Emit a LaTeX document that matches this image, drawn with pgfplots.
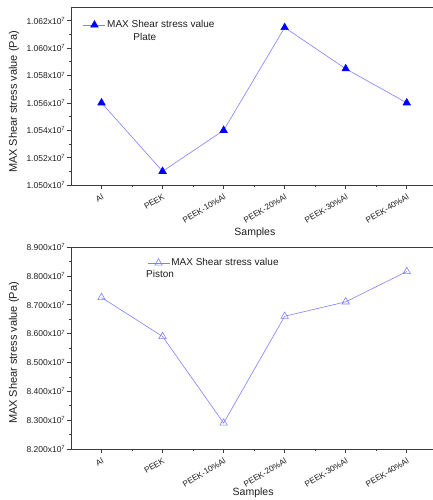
\documentclass[border=0pt]{standalone}
\usepackage{fontspec}
\setmainfont{Liberation Sans}
\usepackage{pgfplots}
\pgfplotsset{compat=1.18}
\definecolor{lineblue}{RGB}{128,128,255}
\definecolor{markblue}{RGB}{0,0,255}
\definecolor{axgray}{RGB}{60,60,60}
\definecolor{txt}{RGB}{30,30,30}
\begin{document}
\begin{tikzpicture}[x=1pt,y=1pt]
\path[use as bounding box] (0,0) rectangle (433,-500);
\pgfplotsset{
 myax/.style={
  scale only axis, width=362pt,
  xmin=-0.5, xmax=5.43,
  xtick={0,1,2,3,4,5},
  xticklabels={Al,PEEK,PEEK-10\%Al,PEEK-20\%Al,PEEK-30\%Al,PEEK-40\%Al},
  minor x tick num=1, minor y tick num=1,
  axis x line*=box, axis y line*=left,
  axis line style={-, axgray, line width=0.8pt},
  xtick pos=bottom, ytick pos=left, tick align=outside,
  major tick length=4pt, minor tick length=2.2pt,
  every tick/.style={axgray, line width=0.6pt},
  xticklabel shift=3pt,
  x tick label style={rotate=31, anchor=north east, font=\fontsize{8.2}{9}\selectfont, text=txt, inner sep=1pt},
  y tick label style={font=\fontsize{8.5}{9}\selectfont, text=txt, inner sep=1.5pt},
  /pgf/number format/assume math mode=true,
  yticklabel={\pgfmathprintnumber[fixed,precision=3,zerofill]{\tick}x10\textsuperscript{7}},
  y filter/.expression={y/1e7},
  ylabel={MAX Shear stress value (Pa)},
  xlabel={Samples},
  legend cell align=left,
  legend style={draw=none, fill=none, inner sep=0pt, anchor=west, font=\fontsize{10}{11}\selectfont, text=txt,
    nodes={inner sep=1.5pt}},
  legend image code/.code={\draw[mark repeat=2,mark phase=2] plot coordinates {(0pt,0pt) (11pt,0pt) (22pt,0pt)};},
 }
}
\begin{axis}[myax, at={(71pt,-185pt)}, anchor=south west, height=178pt,
  ymin=1.050, ymax=1.063, ytick={1.050,1.052,1.054,1.056,1.058,1.060,1.062},
  every axis y label/.style={at={(rel axis cs:0,0.466)}, xshift=-57pt, rotate=90, anchor=center, font=\fontsize{11}{12}\selectfont, text=txt},
  every axis x label/.style={at={(rel axis cs:0.508,0)}, yshift=-48pt, anchor=center, font=\fontsize{10.5}{12}\selectfont, text=txt},
  legend style={at={(rel axis cs:0.033,0.899)}}]
\addplot[lineblue, line width=0.6pt, mark=triangle*, mark size=4.3pt,
  mark options={markblue, fill=markblue}] coordinates {
  (0,10560000) (1,10510000) (2,10540000) (3,10615000) (4,10585000) (5,10560000)};
\addlegendentry{MAX Shear stress value}
\node[font=\fontsize{10}{11}\selectfont, text=txt] at (rel axis cs:0.204,0.831) {Plate};
\end{axis}
\begin{axis}[myax, at={(71pt,-449pt)}, anchor=south west, height=202pt,
  ymin=8.2, ymax=8.9, ytick={8.2,8.3,8.4,8.5,8.6,8.7,8.8,8.9},
  every axis y label/.style={at={(rel axis cs:0,0.475)}, xshift=-57pt, rotate=90, anchor=center, font=\fontsize{11}{12}\selectfont, text=txt},
  every axis x label/.style={at={(rel axis cs:0.503,0)}, yshift=-44pt, anchor=center, font=\fontsize{10.5}{12}\selectfont, text=txt},
  legend style={at={(rel axis cs:0.21,0.921)}}]
\addplot[lineblue, line width=0.6pt, mark=triangle, mark size=4.3pt,
  mark options={lineblue, line width=0.6pt}] coordinates {
  (0,87250000) (1,85900000) (2,82900000) (3,86600000) (4,87100000) (5,88150000)};
\addlegendentry{MAX Shear stress value}
\node[font=\fontsize{10}{11}\selectfont, text=txt] at (rel axis cs:0.246,0.866) {Piston};
\end{axis}
\end{tikzpicture}
\end{document}
